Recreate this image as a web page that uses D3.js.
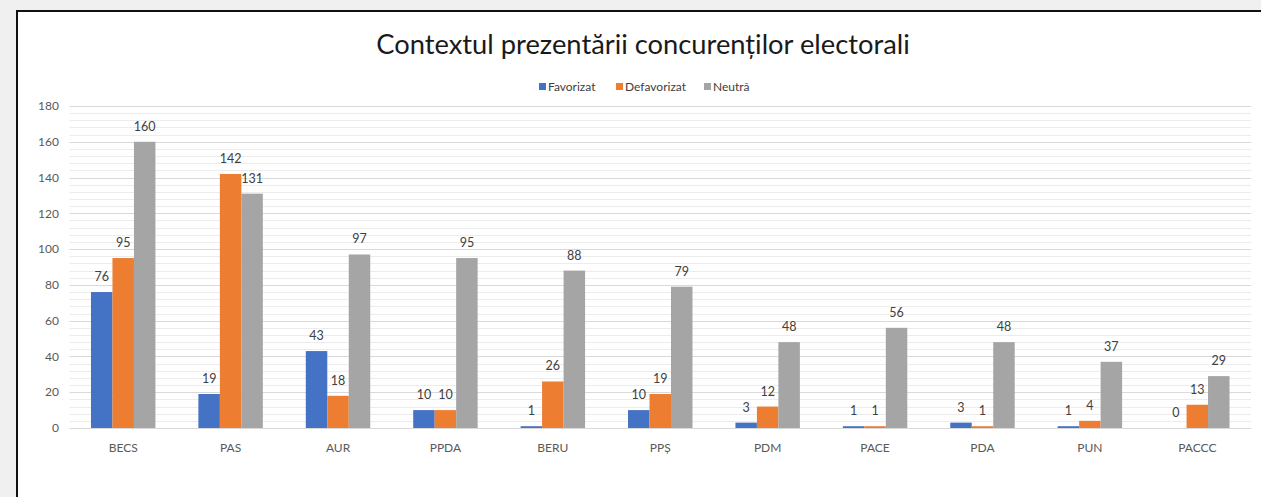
<!DOCTYPE html>
<html>
<head>
<meta charset="utf-8">
<script src="https://cdn.jsdelivr.net/npm/d3@7.9.0/dist/d3.min.js"></script>
<style>
  html, body { margin: 0; padding: 0; background: #f0f0f0; overflow: hidden; }
  svg { display: block; font-family: Lato, 'Open Sans', sans-serif; }
</style>
</head>
<body>
<svg id="chart" width="1261" height="497"></svg>
<script>
const categories = ['BECS', 'PAS', 'AUR', 'PPDA', 'BERU', 'PPȘ', 'PDM', 'PACE', 'PDA', 'PUN', 'PACCC'];
const seriesNames = ['Favorizat', 'Defavorizat', 'Neutră'];
const favorizat = [76, 19, 43, 10, 1, 10, 3, 1, 3, 1, 0];
const defavorizat = [95, 142, 18, 10, 26, 19, 12, 1, 1, 4, 13];
const neutra = [160, 131, 97, 95, 88, 79, 48, 56, 48, 37, 29];
const yTicks = [0, 20, 40, 60, 80, 100, 120, 140, 160, 180];

const colors = ['#4472C4', '#ED7D31', '#A5A5A5'];
const values = [favorizat, defavorizat, neutra];

const svg = d3.select('#chart');

// white chart area, frame only on top and left (rest is cut off)
svg.append('rect')
  .attr('x', 17).attr('y', 11)
  .attr('width', 1250).attr('height', 490)
  .attr('fill', '#fff');
svg.append('path')
  .attr('d', 'M17,500V11H1261')
  .attr('fill', 'none')
  .attr('stroke', '#111')
  .attr('stroke-width', 2);

const left = 69.5, right = 1251;
const y = d3.scaleLinear().domain([0, 180]).range([428, 106]);
const x0 = d3.scaleBand().domain(categories).range([left, right]).padding(0);
const x1 = d3.scaleBand().domain(seriesNames).range([0, x0.bandwidth()]).paddingInner(0).paddingOuter(1);

// minor gridlines
svg.append('g')
  .selectAll('line')
  .data(d3.range(0, 181, 4).filter(v => v % 20 !== 0))
  .join('line')
  .attr('x1', left).attr('x2', right)
  .attr('y1', d => Math.round(y(d)) + 0.5)
  .attr('y2', d => Math.round(y(d)) + 0.5)
  .attr('stroke', '#ececec');

// major gridlines
svg.append('g')
  .selectAll('line')
  .data(yTicks)
  .join('line')
  .attr('x1', left).attr('x2', right)
  .attr('y1', d => Math.round(y(d)) + 0.5)
  .attr('y2', d => Math.round(y(d)) + 0.5)
  .attr('stroke', '#d9d9d9');

// y axis labels
svg.append('g')
  .selectAll('text')
  .data(yTicks)
  .join('text')
  .attr('x', 59)
  .attr('y', d => y(d))
  .attr('dy', '0.35em')
  .attr('text-anchor', 'end')
  .attr('font-size', 12)
  .attr('fill', '#595959')
  .text(d => d);

// bars
const groups = svg.append('g')
  .selectAll('g')
  .data(categories)
  .join('g')
  .attr('transform', d => `translate(${x0(d)},0)`);

groups.selectAll('rect')
  .data((c, i) => seriesNames.map((s, k) => ({ s, k, v: values[k][i] })))
  .join('rect')
  .attr('x', d => x1(d.s))
  .attr('width', x1.bandwidth())
  .attr('y', d => y(d.v))
  .attr('height', d => y(0) - y(d.v))
  .attr('fill', d => colors[d.k]);

groups.selectAll('text')
  .data((c, i) => seriesNames.map((s, k) => ({ s, k, v: values[k][i] })))
  .join('text')
  .attr('x', d => x1(d.s) + x1.bandwidth() / 2)
  .attr('y', d => y(d.v) - 11)
  .attr('text-anchor', 'middle')
  .attr('font-size', 12.5)
  .attr('fill', '#404040')
  .text(d => d.v);

// x axis labels
svg.append('g')
  .selectAll('text')
  .data(categories)
  .join('text')
  .attr('x', d => x0(d) + x0.bandwidth() / 2)
  .attr('y', 452)
  .attr('text-anchor', 'middle')
  .attr('font-size', 12)
  .attr('fill', '#595959')
  .text(d => d);

// title
svg.append('text')
  .attr('x', 643)
  .attr('y', 54)
  .attr('text-anchor', 'middle')
  .attr('font-size', 27.3)
  .attr('fill', '#1a1a1a')
  .text('Contextul prezentării concurenților electorali');

// legend
const legendX = [539, 616, 704];
const legend = svg.append('g')
  .selectAll('g')
  .data(seriesNames)
  .join('g')
  .attr('transform', (d, i) => `translate(${legendX[i]},87)`);

legend.append('rect')
  .attr('x', 0).attr('y', -4)
  .attr('width', 7).attr('height', 7)
  .attr('fill', (d, i) => colors[i]);

legend.append('text')
  .attr('x', 9)
  .attr('dy', '0.35em')
  .attr('font-size', 12)
  .attr('fill', '#404040')
  .text(d => d);
</script>
</body>
</html>
